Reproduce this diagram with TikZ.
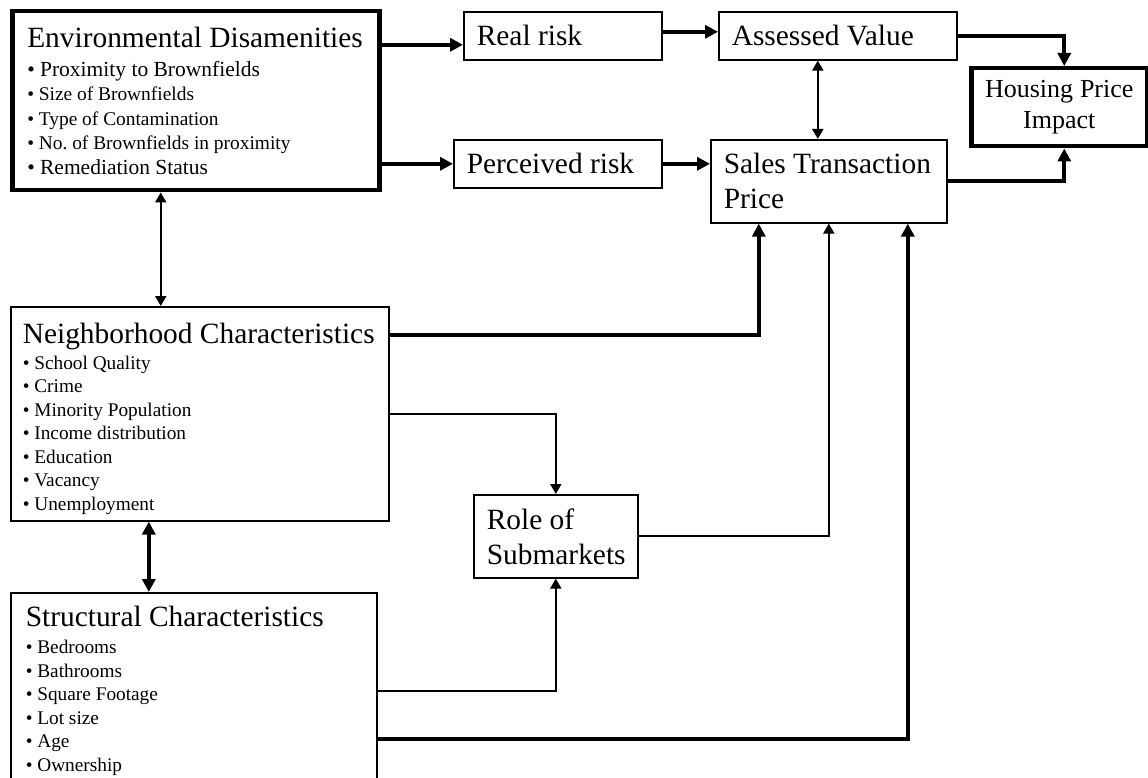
\documentclass[tikz,border=0pt]{standalone}
\usepackage{fontspec}
\setmainfont{Liberation Serif}
\usetikzlibrary{positioning,arrows.meta,calc}
\setlength{\parindent}{0pt}

% box title and bullet lines
\newcommand{\normsp}{\spaceskip=0pt\relax\xspaceskip=0pt\relax}
\newcommand{\heading}[2]{{\fontsize{29.4}{34}\selectfont\normsp #1\par}\vspace{#2pt}}
\newcommand{\bulskip}{24.5pt}
\newcommand{\bul}[2][19.4]{{\fontsize{#1}{\bulskip}\selectfont\normsp\makebox[0.6em][l]{\textbullet}#2\par}}

\tikzset{
  box/.style={draw, line width=1.6pt, anchor=north west, inner ysep=0pt,
    inner xsep=13pt, align=left, font=\fontsize{29.4}{35}\selectfont},
  boldbox/.style={box, line width=4.5pt},
  link/.style={line width=2pt, -{Triangle[length=10pt,width=11pt]}},
  linkboth/.style={line width=2pt, {Triangle[length=10pt,width=11pt]}-{Triangle[length=10pt,width=11pt]}},
  heavy/.style={line width=4pt, -{Triangle[length=13pt,width=13pt]}},
  heavyboth/.style={line width=4pt, {Triangle[length=13pt,width=13pt]}-{Triangle[length=13pt,width=13pt]}}
}

\begin{document}
\begin{tikzpicture}[x=1pt, y=-1pt]
  \useasboundingbox (0,0) rectangle (1148,778);

  % Environmental box
  \node[boldbox, inner xsep=15pt, text width=337pt, minimum height=179pt] (env) at (10,9) {%
    \heading{Environmental Disamenities}{4}%
    \bul[21.5]{Proximity to Brownfields}%
    \bul{Size of Brownfields}%
    \bul{Type of Contamination}%
    \bul{No.\ of Brownfields in proximity}%
    \bul[21.5]{Remediation Status}};

  % Risk and price boxes
  \node[box, text width=172pt, minimum height=48pt] (real) at (463,11) {\normsp Real risk};
  \node[box, text width=182pt, minimum height=48pt] (perc) at (453,139) {\normsp Perceived risk};
  \node[box, text width=212pt, minimum height=48pt] (assess) at (718,11) {\normsp Assessed Value};
  \node[box, text width=210pt, minimum height=83pt] (sales) at (710,139) {\normsp Sales Transaction\\Price};
  \node[boldbox, inner xsep=8pt, align=center, text width=160pt, minimum height=78pt,
    font=\fontsize{26}{31}\selectfont] (impact) at (969,66) {\normsp Housing Price\\Impact};

  % Neighborhood box
  \node[box, inner xsep=12pt, text width=354pt, minimum height=214pt] (nbhd) at (10,306) {%
    \renewcommand{\bulskip}{23.5pt}%
    \heading{\rule{0pt}{30pt}Neighborhood Characteristics}{2.5}%
    \bul[19.3]{School Quality}%
    \bul[19.3]{Crime}%
    \bul[19.3]{Minority Population}%
    \bul[19.3]{Income distribution}%
    \bul[19.3]{Education}%
    \bul[19.3]{Vacancy}%
    \bul[19.3]{Unemployment}};

  % Submarkets
  \node[box, text width=138pt, minimum height=83pt] (role) at (473,494) {\normsp Role of\\Submarkets};

  % Structural box (runs off the bottom)
  \node[box, inner xsep=15pt, text width=336pt, minimum height=196pt] (struct) at (10,592) {%
    \renewcommand{\bulskip}{23.5pt}%
    \heading{Structural Characteristics}{3.5}%
    \bul[19.3]{Bedrooms}%
    \bul[19.3]{Bathrooms}%
    \bul[19.3]{Square Footage}%
    \bul[19.3]{Lot size}%
    \bul[19.3]{Age}%
    \bul[19.3]{Ownership}};

  % Top row arrows
  \coordinate (realin) at ($(real.west)+(0,9)$);
  \draw[heavy] (env.east |- realin) -- (realin);
  \draw[heavy] (env.east |- perc.west) -- (perc.west);
  \coordinate (assessin) at ($(assess.west)+(0,-4)$);
  \draw[heavy] (real.east |- assessin) -- (assessin);
  \draw[heavy] (perc.east) -- (perc.east -| sales.west);
  \coordinate (impacttop) at ($(impact.north)+(5,0)$);
  \draw[heavy] (assess.east) -| (impacttop);
  \coordinate (impactbot) at ($(impact.south)+(5,0)$);
  \draw[heavy] (sales.east) -| (impactbot);
  \coordinate (avsv) at ($(sales.north)+(-11,0)$);
  \draw[linkboth] (avsv |- assess.south) -- (avsv);

  % Left column arrows
  \coordinate (envdown) at ($(env.south)+(-35,0)$);
  \draw[linkboth] (envdown) -- (envdown |- nbhd.north);
  \coordinate (nbdown) at ($(nbhd.south)+(-51,0)$);
  \draw[heavyboth] (nbdown) -- (nbdown |- struct.north);

  % Into sales price and submarkets
  \coordinate (nbout) at ($(nbhd.north east)+(0,29)$);
  \coordinate (salesin) at ($(sales.south)+(-70,0)$);
  \draw[heavy] (nbout) -| (salesin);
  \draw[link] (nbhd.east) -| (role.north);
  \draw[link] (role.east) -| (sales.south);
  \draw[link] (struct.east) -| (role.south);
  \coordinate (stout) at ($(struct.east)+(0,48)$);
  \coordinate (salesright) at ($(sales.south)+(79,0)$);
  \draw[heavy] (stout) -| (salesright);
\end{tikzpicture}
\end{document}
